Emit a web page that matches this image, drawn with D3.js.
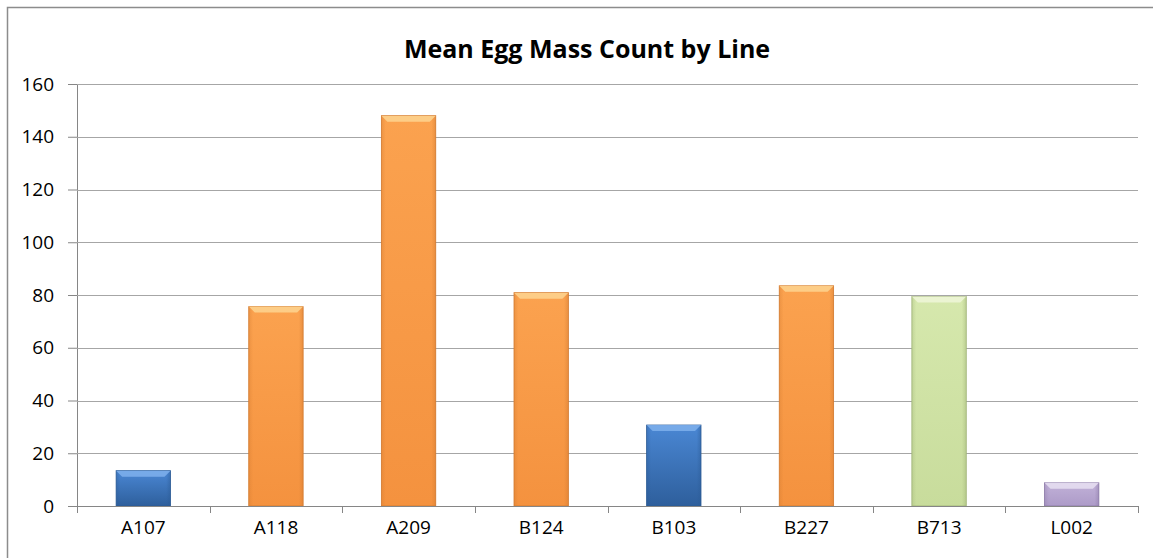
<!DOCTYPE html>
<html>
<head>
<meta charset="utf-8">
<script src="https://cdn.jsdelivr.net/npm/d3@7"></script>
<style>
  body { margin: 0; background: #fff; }
  text { font-family: "Open Sans", Lato, sans-serif; fill: #000; }
</style>
</head>
<body>
<svg id="chart" width="1153" height="558"></svg>
<script>
const lines = ['A107', 'A118', 'A209', 'B124', 'B103', 'B227', 'B713', 'L002'];
const eggMass = [13.4, 75.6, 148, 80.9, 30.7, 83.5, 79.4, 8.8];
const group = ['blue', 'orange', 'orange', 'orange', 'blue', 'orange', 'green', 'purple'];
const yTicks = [0, 20, 40, 60, 80, 100, 120, 140, 160];

const palette = {
  blue:   { top: '#7fb0ec', light: '#4a87d4', dark: '#2e5f9c', edge: '#2b5a94' },
  orange: { top: '#fdd590', light: '#fba24f', dark: '#f4923f', edge: '#d27a30' },
  green:  { top: '#eef6d8', light: '#d6e8ad', dark: '#c8dc9c', edge: '#9eb276' },
  purple: { top: '#e8e0f2', light: '#c1b1d8', dark: '#ad9bc8', edge: '#8a78a6' }
};

const svg = d3.select('#chart');
const margin = { top: 84, left: 77, right: 15, bottom: 52 };

// chart frame (only top/left visible in the picture)
svg.append('rect')
  .attr('x', 7.5).attr('y', 7.5)
  .attr('width', 1200).attr('height', 600)
  .attr('fill', 'none').attr('stroke', '#8c8c8c').attr('stroke-width', 1.5);

svg.append('text')
  .attr('x', 587).attr('y', 58)
  .attr('text-anchor', 'middle')
  .attr('font-size', 25).attr('font-weight', 'bold')
  .text('Mean Egg Mass Count by Line');

const x = d3.scaleBand()
  .domain(lines)
  .range([margin.left, 1138])
  .paddingInner(0.59).paddingOuter(0.295);

const y = d3.scaleLinear()
  .domain([0, 160])
  .range([506, 84]);

// gradients
const defs = svg.append('defs');
Object.entries(palette).forEach(([k, c]) => {
  const g = defs.append('linearGradient').attr('id', 'g-' + k)
    .attr('x1', 0).attr('y1', 0).attr('x2', 0).attr('y2', 1);
  g.append('stop').attr('offset', '0%').attr('stop-color', c.light);
  g.append('stop').attr('offset', '100%').attr('stop-color', c.dark);
  const h = defs.append('linearGradient').attr('id', 'h-' + k)
    .attr('x1', 0).attr('y1', 0).attr('x2', 1).attr('y2', 0);
  h.append('stop').attr('offset', '0%').attr('stop-color', c.edge).attr('stop-opacity', 0.35);
  h.append('stop').attr('offset', '8%').attr('stop-color', c.edge).attr('stop-opacity', 0);
  h.append('stop').attr('offset', '92%').attr('stop-color', c.edge).attr('stop-opacity', 0);
  h.append('stop').attr('offset', '100%').attr('stop-color', c.edge).attr('stop-opacity', 0.45);
});

// gridlines + y axis
const yAxis = svg.append('g')
  .attr('transform', `translate(${margin.left},0)`)
  .call(d3.axisLeft(y).tickValues(yTicks).tickSize(9).tickPadding(14));
yAxis.select('.domain').attr('stroke', '#868686');
yAxis.selectAll('.tick line').attr('stroke', '#868686');
yAxis.selectAll('.tick text').attr('font-size', 19).attr('fill', '#000')
  .style('font-family', '"Open Sans", Lato, sans-serif');

svg.append('g')
  .selectAll('line')
  .data(yTicks.filter(d => d > 0))
  .join('line')
  .attr('x1', margin.left).attr('x2', 1138)
  .attr('y1', d => Math.round(y(d)) + 0.5).attr('y2', d => Math.round(y(d)) + 0.5)
  .attr('stroke', '#a6a6a6');

// bars
const bars = svg.append('g').selectAll('g.bar')
  .data(lines.map((l, i) => ({ line: l, value: eggMass[i], grp: group[i] })))
  .join('g').attr('class', 'bar');

bars.append('rect')
  .attr('x', d => x(d.line)).attr('width', x.bandwidth())
  .attr('y', d => y(d.value)).attr('height', d => y(0) - y(d.value))
  .attr('fill', d => `url(#g-${d.grp})`)
  .attr('stroke', d => palette[d.grp].edge).attr('stroke-width', 0.8);

bars.append('rect')
  .attr('x', d => x(d.line)).attr('width', x.bandwidth())
  .attr('y', d => y(d.value)).attr('height', d => y(0) - y(d.value))
  .attr('fill', d => `url(#h-${d.grp})`);

// top bevel
const bev = 6;
bars.append('path')
  .attr('d', d => {
    const x0 = x(d.line), x1 = x0 + x.bandwidth(), t = y(d.value);
    return `M${x0},${t}L${x1},${t}L${x1 - bev},${t + bev}L${x0 + bev},${t + bev}Z`;
  })
  .attr('fill', d => palette[d.grp].top).attr('opacity', 0.85);

// x axis
const xAxis = svg.append('g')
  .attr('transform', `translate(0,${y(0)})`)
  .call(d3.axisBottom(x).tickSize(0).tickPadding(15));
xAxis.select('.domain').attr('stroke', '#868686');
xAxis.selectAll('.tick text').attr('font-size', 19).attr('fill', '#000')
  .style('font-family', '"Open Sans", Lato, sans-serif');

// category separators on x axis
const step = x.step();
svg.append('g')
  .selectAll('line')
  .data(d3.range(lines.length + 1))
  .join('line')
  .attr('x1', i => Math.round(margin.left + i * step) + 0.5)
  .attr('x2', i => Math.round(margin.left + i * step) + 0.5)
  .attr('y1', y(0)).attr('y2', y(0) + 7)
  .attr('stroke', '#868686');
</script>
</body>
</html>
